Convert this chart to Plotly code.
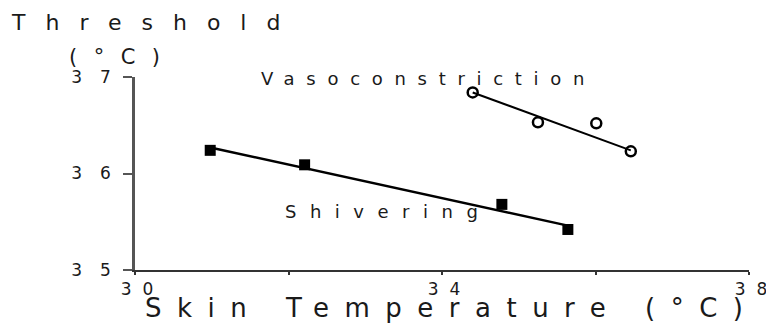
import plotly.graph_objects as go

# ---- data ----
shiv_x = [30.98, 32.21, 34.78, 35.64]
shiv_y = [36.24, 36.09, 35.68, 35.42]
shiv_fit_x = [30.98, 35.64]
shiv_fit_y = [36.27, 35.46]

vaso_x = [34.40, 35.25, 36.01, 36.46]
vaso_y = [36.84, 36.53, 36.52, 36.23]
vaso_fit_x = [34.40, 36.46]
vaso_fit_y = [36.84, 36.24]

x_tickvals = [30, 32, 34, 36, 38]
x_ticklabels = ["30", "", "34", "", "38"]
y_tickvals = [35, 36, 37]
y_ticklabels = ["35", "36", "37"]

FONT = "DejaVu Sans"
INK = "#1a1a1a"


def spaced(text, px):
    """Letter-spaced text (spacing on all but the last char)."""
    if len(text) <= 1:
        return text
    return f'<span style="letter-spacing:{px}px">{text[:-1]}</span>{text[-1]}'


fig = go.Figure()

fig.add_trace(go.Scatter(x=shiv_fit_x, y=shiv_fit_y, mode="lines",
                         line=dict(color="black", width=2.5), hoverinfo="skip"))
fig.add_trace(go.Scatter(x=vaso_fit_x, y=vaso_fit_y, mode="lines",
                         line=dict(color="black", width=2), hoverinfo="skip"))
fig.add_trace(go.Scatter(x=shiv_x, y=shiv_y, mode="markers",
                         marker=dict(symbol="square", size=11, color="black")))
fig.add_trace(go.Scatter(x=vaso_x, y=vaso_y, mode="markers",
                         marker=dict(symbol="circle-open", size=10, color="black",
                                     line=dict(color="black", width=2.5))))

L, R, T, B = 135, 17, 77, 55
W, H = 766, 325
pw, ph = W - L - R, H - T - B


def px_x(px):
    return (px - L) / pw


def px_y(py):
    return (H - B - py) / ph


annos = [
    dict(text=spaced("Threshold", 20), x=px_x(9), y=px_y(23), xanchor="left",
         yanchor="middle", font=dict(size=22)),
    dict(text=spaced("(°C)", 16.5), x=px_x(114), y=px_y(57), xanchor="center",
         yanchor="middle", font=dict(size=21)),
    dict(text=spaced("Skin Temperature (°C)", 15.5), x=px_x(443.5), y=px_y(308),
         xanchor="center", yanchor="middle", font=dict(size=26)),
    dict(text=spaced("Vasoconstriction", 11.7), x=px_x(422.5), y=px_y(78.5),
         xanchor="center", yanchor="middle", font=dict(size=18)),
    dict(text=spaced("Shivering", 13.5), x=px_x(381), y=px_y(211.5),
         xanchor="center", yanchor="middle", font=dict(size=18)),
]
for a in annos:
    a.update(xref="paper", yref="paper", showarrow=False)
    a["font"].update(family=FONT, color=INK)

fig.update_layout(
    width=W, height=H,
    margin=dict(l=L, r=R, t=T, b=B, autoexpand=False),
    paper_bgcolor="white", plot_bgcolor="white",
    showlegend=False,
    annotations=annos,
    font=dict(family=FONT, color=INK),
)
fig.update_xaxes(range=[30, 38], showgrid=False, zeroline=False,
                 automargin=False,
                 showline=True, linecolor="#333", linewidth=2,
                 ticks="outside", ticklen=3, tickwidth=2, tickcolor="#333",
                 tickvals=x_tickvals,
                 ticktext=[spaced(t, 11) for t in x_ticklabels],
                 tickfont=dict(family=FONT, size=17, color=INK),
                 ticklabelstandoff=0, ticklabelshift=2,
                 ticklabeloverflow="allow")
fig.update_yaxes(range=[35, 37], showgrid=False, zeroline=False,
                 automargin=False,
                 showline=True, linecolor="#555", linewidth=2.5,
                 ticks="outside", ticklen=9, tickwidth=1.5, tickcolor="#555",
                 tickvals=y_tickvals,
                 ticktext=[spaced(t, 18) for t in y_ticklabels],
                 tickfont=dict(family=FONT, size=17, color=INK),
                 ticklabelstandoff=9)

fig.write_html("out.html", config={"displayModeBar": False},
               post_script="document.body.style.margin='0';document.body.style.overflow='hidden';")
